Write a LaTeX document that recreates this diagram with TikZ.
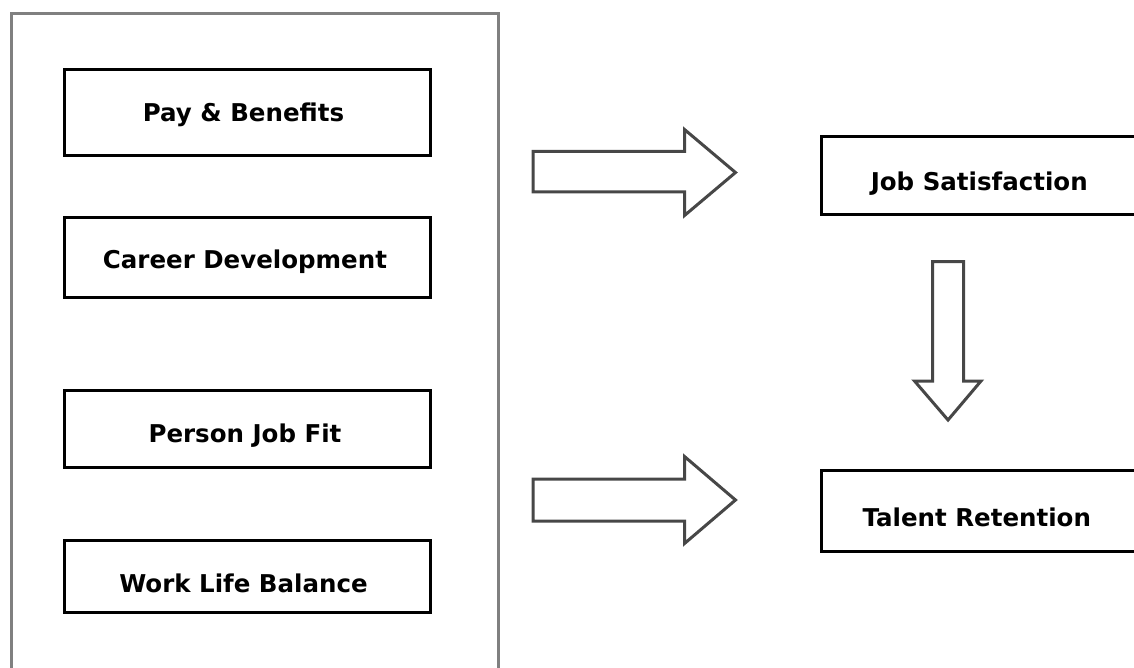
\documentclass[tikz,border=0pt]{standalone}
\usepackage{fontspec}
\setmainfont{DejaVu Sans}
\begin{document}
\begin{tikzpicture}[x=1pt,y=-1pt,
  factor/.style={draw=black,line width=3pt,inner sep=0pt,
    font=\fontsize{24.5}{29}\selectfont\bfseries,text=black,
    text depth=0pt,text height=18pt},
  drop/.style={text height=18pt+2*#1},
  blockarrow/.style={draw=black!72,line width=3pt,line join=miter,fill=white}]
\useasboundingbox (0,0) rectangle (1134,668);
\clip (0,0) rectangle (1134,668);

% frame grouping the four factors
\node[draw=black!50,line width=3pt,minimum width=487pt,minimum height=666pt,inner sep=0pt]
  (frame) at (255,346.5) {};

% factor boxes
\node[factor,drop=0.5pt,minimum width=366pt,minimum height=86pt] (pay)    at (247.5,112.5) {Pay \& Benefits\kern8pt};
\node[factor,drop=2.5pt,minimum width=366pt,minimum height=80pt] (career) at (247.5,257.5) {Career Development\kern5pt};
\node[factor,drop=4pt,minimum width=366pt,minimum height=77pt]   (fit)    at (247.5,429)   {Person Job Fit\kern5pt};
\node[factor,drop=6.5pt,minimum width=366pt,minimum height=72pt] (wlb)    at (247.5,576.5) {Work Life Balance\kern8pt};

% outcome boxes
\node[factor,drop=6.5pt,minimum width=315.5pt,minimum height=78pt] (js) at (979.25,175.5) {Job Satisfaction};
\node[factor,drop=6pt,minimum width=315.5pt,minimum height=81pt]   (tr) at (979.25,511)   {Talent Retention\kern5pt};

% block arrows
\coordinate (a1) at (533,172.5);
\coordinate (a2) at (533,500);
\coordinate (a3) at (948,261.5);
\draw[blockarrow] (a1) ++(0,-21) -- ++(151.5,0) -- ++(0,-22) -- (735.5,172.5)
  -- (684.5,215.5) -- ++(0,-23.5) -- ++(-151.5,0) -- cycle;
\draw[blockarrow] (a2) ++(0,-21) -- ++(151.5,0) -- ++(0,-22.5) -- (735.5,500)
  -- (684.5,543.5) -- ++(0,-22.5) -- ++(-151.5,0) -- cycle;
\draw[blockarrow] (a3) ++(-15.5,0) -- ++(31,0) -- ++(0,119.5) -- ++(17.5,0)
  -- (948,420) -- (914.5,381) -- ++(18,0) -- cycle;
\end{tikzpicture}
\end{document}
